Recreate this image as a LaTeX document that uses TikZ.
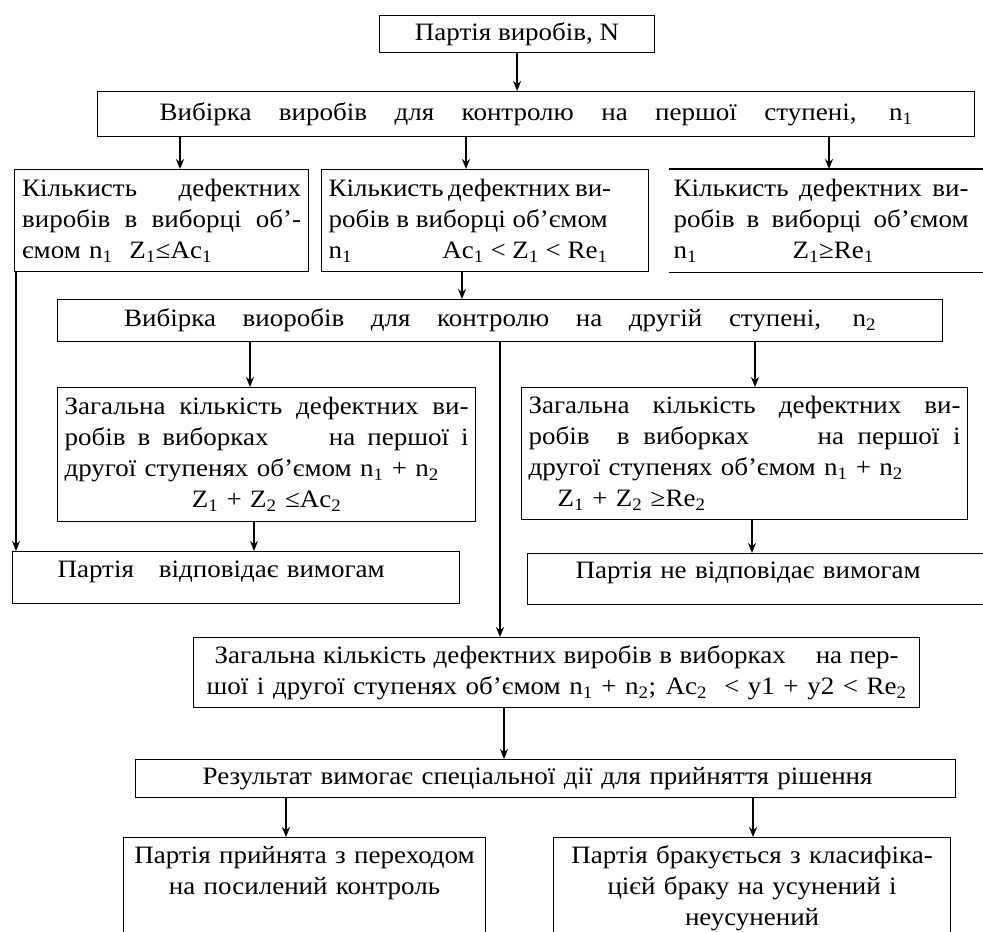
\documentclass[tikz,border=0pt]{standalone}
\usepackage{fontspec}
\setmainfont[FakeStretch=1.08]{Liberation Serif}
\usepackage{tikz}
\usetikzlibrary{arrows.meta}

\newcommand\idx[1]{\textsubscript{#1}}
\newcommand\spreadto[2]{\makebox[#1][s]{\spaceskip=0pt\xspaceskip=0pt #2}}

\begin{document}
\begin{tikzpicture}[x=1pt, y=-1pt,
    every node/.style={font=\fontsize{25}{31}\selectfont},
    block/.style={draw, line width=1.2pt, rectangle, anchor=north west, inner xsep=7pt, inner ysep=3pt},
    flow/.style={-{Stealth[length=10pt,width=8pt]}, line width=2.2pt}]

    \useasboundingbox (0,0) rectangle (983,932);
    \clip (0,0) rectangle (983,932);

    % Nodes
    \node[block, minimum width=275pt, minimum height=37pt] (lot) at (379,15) {Партія виробів, N};
    \node[block, minimum width=877pt, minimum height=45pt] (first) at (97,91)
        {\spreadto{753pt}{Вибірка виробів для контролю на першої ступені, n\idx1}};

    \node[block, minimum width=294pt, minimum height=102pt, text width=279pt, align=left] (accept1) at (14,169)
        {\spreadto{279pt}{Кількисть дефектних}\\ \spreadto{279pt}{виробів в виборці об’-}\\ ємом n\idx1\ \ Z\idx1≤Ac\idx1};
    \node[block, minimum width=327pt, minimum height=102pt, text width=313pt, align=left] (doubt1) at (321,169)
        {\spreadto{279pt}{Кількисть дефектних ви-}\\ \spreadto{279pt}{робів в виборці об’ємом}\\
         \spreadto{279pt}{n\idx1\hfill Ac\idx1 < Z\idx1 < Re\idx1}};
    \node[block, draw=none, minimum height=102pt, text width=295pt, inner xsep=4pt, align=left] (reject1) at (669,169)
        {\spreadto{295pt}{Кількисть дефектних ви-}\\ \spreadto{295pt}{робів в виборці об’ємом}\\ \makebox[119pt][l]{n\idx1}Z\idx1≥Re\idx1};
    \draw[line width=1.2pt] (reject1.north west) -- ++(330,0);
    \draw[line width=1.2pt] (reject1.south west) -- ++(330,0);

    \node[block, minimum width=885pt, minimum height=42pt] (second) at (57,299)
        {\spreadto{752pt}{Вибірка виоробів для контролю на другій ступені, n\idx2}};

    \node[block, minimum width=418pt, minimum height=134pt, text width=404pt, align=left] (accept2) at (57,387)
        {\spreadto{404pt}{Загальна кількість дефектних ви-}\\ \spreadto{404pt}{робів в виборках \ \ \ \ на першої і}\\
         другої ступенях об’ємом n\idx1 + n\idx2\\ \makebox[404pt]{Z\idx1 + Z\idx2 ≤Ac\idx2}};
    \node[block, minimum width=446pt, minimum height=132pt, text width=432pt, align=left] (reject2) at (521,387)
        {\spreadto{432pt}{Загальна кількість дефектних ви-}\\ \spreadto{432pt}{робів \ в виборках \ \ \ \ на першої і}\\
         другої ступенях об’ємом n\idx1 + n\idx2\\ \hspace*{29pt}Z\idx1 + Z\idx2 ≥Re\idx2};

    \node[block, minimum width=447pt, text width=433pt, align=left, text height=23pt, text depth=23pt] (okay) at (12,551)
        {\hspace*{38pt}Партія \ \ відповідає вимогам};
    \node[block, minimum width=480pt, text width=466pt, align=left, text height=22pt, text depth=23pt] (notokay) at (527,553)
        {\hspace*{41pt}Партія не відповідає вимогам};

    \node[block, minimum width=726pt, minimum height=70pt, text width=712pt, align=center] (both) at (193,637)
        {\spreadto{684pt}{Загальна кількість дефектних виробів в виборках \ \ \ на пер-}\\
         \spreadto{700pt}{шої і другої ступенях об’ємом n\idx1 + n\idx2; Ac\idx2 \ < y1 + y2 < Re\idx2}};

    \node[block, minimum width=820pt, minimum height=38pt, text width=806pt, align=left] (special) at (135,759)
        {\hspace*{60pt}\spreadto{670pt}{Результат вимогає спеціальної дії для прийняття рішення}};

    \node[block, minimum width=362pt, text width=348pt, align=center, text height=23pt, text depth=100pt] (tighter) at (123,837)
        {Партія прийнята з переходом\\ на посилений контроль};
    \node[block, minimum width=397pt, text width=383pt, align=center, text height=23pt, text depth=100pt] (scrap) at (553,837)
        {Партія бракується з класифіка-\\ цієй браку на усунений і\\ неусунений};

    % Links
    \draw[flow] (lot.south) -- (lot.south |- first.north);
    \draw[flow] (180,0 |- first.south) -- (180,0 |- accept1.north);
    \draw[flow] (466,0 |- first.south) -- (466,0 |- doubt1.north);
    \draw[flow] (829,0 |- first.south) -- (829,0 |- reject1.north);
    \draw[flow] (16,0 |- accept1.south) -- (16,0 |- okay.north);
    \draw[flow] (462,0 |- doubt1.south) -- (462,0 |- second.north);
    \draw[flow] (250,0 |- second.south) -- (250,0 |- accept2.north);
    \draw[flow] (755,0 |- second.south) -- (755,0 |- reject2.north);
    \draw[flow] (500,0 |- second.south) -- (500,0 |- both.north);
    \draw[flow] (254,0 |- accept2.south) -- (254,0 |- okay.north);
    \draw[flow] (752,0 |- reject2.south) -- (752,0 |- notokay.north);
    \draw[flow] (504,0 |- both.south) -- (504,0 |- special.north);
    \draw[flow] (286,0 |- special.south) -- (286,0 |- tighter.north);
    \draw[flow] (753,0 |- special.south) -- (753,0 |- scrap.north);
\end{tikzpicture}
\end{document}
